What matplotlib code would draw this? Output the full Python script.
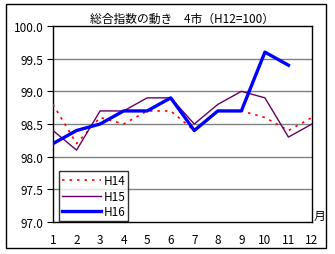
import matplotlib
matplotlib.use("Agg")
import matplotlib.pyplot as plt
from matplotlib.patches import Rectangle

plt.rcParams['font.family'] = ['Noto Sans CJK JP', 'DejaVu Sans']

months = list(range(1, 13))
h14 = [98.8, 98.2, 98.6, 98.5, 98.7, 98.7, 98.4, 98.7, 98.7, 98.6, 98.4, 98.6]
h15 = [98.4, 98.1, 98.7, 98.7, 98.9, 98.9, 98.5, 98.8, 99.0, 98.9, 98.3, 98.5]
h16 = [98.2, 98.4, 98.5, 98.7, 98.7, 98.9, 98.4, 98.7, 98.7, 99.6, 99.4]
yticks = [97.0, 97.5, 98.0, 98.5, 99.0, 99.5, 100.0]
title = "総合指数の動き　4市（H12=100）"

W, H = 335, 255
fig = plt.figure(figsize=(W / 100, H / 100), dpi=100)
fig.patch.set_facecolor('white')
fig.patches.append(Rectangle((6 / W, 1 - 249 / H), 320 / W, 244 / H,
                             transform=fig.transFigure, fill=False,
                             edgecolor='black', linewidth=1.0))

ax = fig.add_axes([53 / W, 1 - 223 / H, (312 - 53) / W, (223 - 27) / H])
ax.set_xlim(1, 12)
ax.set_ylim(97.0, 100.0)
for y in yticks[1:-1]:
    ax.axhline(y, color='#808080', linewidth=1.0, zorder=1)

ax.plot(months[:len(h14)], h14, color='#ff0000', linestyle=(0, (1.5, 3)),
        linewidth=1.2, label='H14', zorder=3)
ax.plot(months[:len(h15)], h15, color='#660066', linewidth=1.0,
        label='H15', zorder=4)
ax.plot(months[:len(h16)], h16, color='#0000ff', linewidth=2.4,
        label='H16', zorder=5)

ax.set_xticks(months)
ax.set_xticklabels([str(m) for m in months], fontsize=8.5)
ax.set_yticks(yticks)
ax.set_yticklabels([f"{v:.1f}" for v in yticks], fontsize=8.5)
ax.tick_params(axis='x', length=0, pad=8)
ax.tick_params(axis='y', length=4, direction='out', pad=3)
for s in ax.spines.values():
    s.set_linewidth(1.0)
    s.set_color('black')

ax.set_title(title, fontsize=8.5, pad=3)
ax.text(1.005, 0.0, '月', transform=ax.transAxes, fontsize=8.5,
        ha='left', va='bottom')

leg = ax.legend(loc='lower left', bbox_to_anchor=(6 / 259, 1 / 196),
                fontsize=8.5, frameon=True, fancybox=False, borderpad=0.25,
                handlelength=3.3, handletextpad=0.2, labelspacing=0.2,
                borderaxespad=0)
leg.get_frame().set_edgecolor('black')
leg.get_frame().set_linewidth(1.0)
leg.set_zorder(10)

fig.savefig('out.png', dpi=100)
